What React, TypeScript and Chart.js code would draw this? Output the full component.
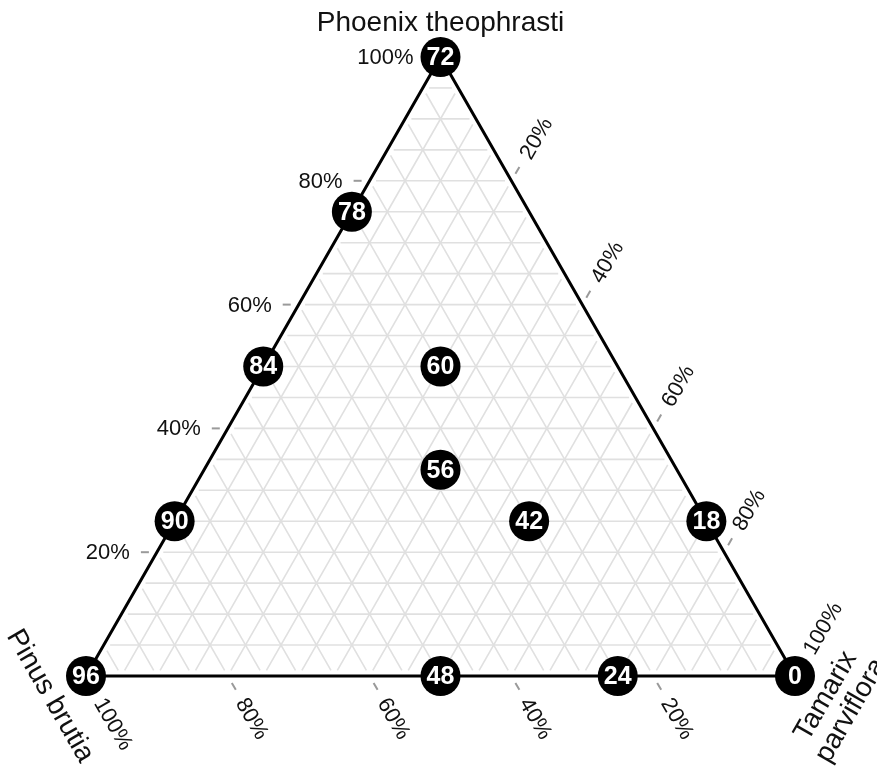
import React, { useEffect, useRef } from 'react';
import { Chart, registerables } from 'chart.js';

Chart.register(...registerables);

// Vertex (axis) titles
const axisTop = 'Phoenix theophrasti';
const axisLeft = 'Pinus brutia';
const axisRight = ['Tamarix', 'parviflora'];

// Sample labels and their compositions (%)
const sampleLabels = ['72', '78', '84', '90', '96', '48', '24', '0', '18', '60', '56', '42'];
const phoenix = [100, 75, 50, 25, 0, 0, 0, 0, 25, 50, 33.3, 25];
const pinus = [0, 25, 50, 75, 100, 50, 25, 0, 0, 25, 33.3, 25];
const tamarix = [0, 0, 0, 0, 0, 50, 75, 100, 75, 25, 33.3, 50];

// Axis ticks
const tickValues = [20, 40, 60, 80, 100];
const tickLabels = ['20%', '40%', '60%', '80%', '100%'];
const gridStep = 5;

const FONT = "'Liberation Sans', Arial, sans-serif";

// ternary (top=a, left=b, right=c) -> cartesian in unit triangle
function tern(a: number, b: number, c: number) {
  const s = a + b + c;
  return { x: (c + a / 2) / s, y: a / s };
}

export default function App() {
  const ref = useRef<HTMLCanvasElement | null>(null);

  useEffect(() => {
    document.body.style.margin = '0';
    const canvas = ref.current!;
    const datasets: any[] = [];

    datasets.push({
      label: 'samples',
      data: sampleLabels.map((_, i) => tern(phoenix[i], pinus[i], tamarix[i])),
      showLine: false,
      pointRadius: 20,
      pointHoverRadius: 20,
      pointBackgroundColor: '#000',
      pointBorderWidth: 0,
      order: 0,
    });

    datasets.push({
      label: 'border',
      data: [tern(1, 0, 0), tern(0, 1, 0), tern(0, 0, 1), tern(1, 0, 0)],
      showLine: true,
      borderColor: '#000',
      borderWidth: 3,
      pointRadius: 0,
      order: 1,
    });

    const inset = 0.009; // grid lines stop just short of the frame
    for (let k = gridStep; k < 100; k += gridStep) {
      const f = k / 100;
      const g = 1 - f - inset;
      const lines = [
        [tern(f, g, inset), tern(f, inset, g)],
        [tern(g, f, inset), tern(inset, f, g)],
        [tern(g, inset, f), tern(inset, g, f)],
      ];
      lines.forEach((pts) =>
        datasets.push({
          label: 'grid',
          data: pts,
          showLine: true,
          borderColor: 'rgb(224,224,224)',
          borderWidth: 1.6,
          pointRadius: 0,
          order: 2,
        })
      );
    }

    const px = (chart: any, p: { x: number; y: number }) => ({
      x: chart.scales.x.getPixelForValue(p.x),
      y: chart.scales.y.getPixelForValue(p.y),
    });

    const axes = [
      { pt: (v: number) => tern(v, 1 - v, 0), dir: [-1, 0], rot: 0, align: 'right' },
      { pt: (v: number) => tern(0, v, 1 - v), dir: [0.5, 0.866], rot: Math.PI / 3, align: 'left' },
      { pt: (v: number) => tern(1 - v, 0, v), dir: [0.5, -0.866], rot: -Math.PI / 3, align: 'left' },
    ];

    const overlay = {
      id: 'ternOverlay',
      beforeDatasetsDraw(chart: any) {
        const ctx = chart.ctx as CanvasRenderingContext2D;
        ctx.save();
        axes.forEach((ax) => {
          tickValues.forEach((tv) => {
            const p = px(chart, ax.pt(tv / 100));
            ctx.strokeStyle = '#9a9a9a';
            ctx.lineWidth = 2;
            ctx.beginPath();
            ctx.moveTo(p.x + ax.dir[0] * 8, p.y + ax.dir[1] * 8);
            ctx.lineTo(p.x + ax.dir[0] * 16, p.y + ax.dir[1] * 16);
            ctx.stroke();
          });
        });
        ctx.restore();
      },
      afterDatasetsDraw(chart: any) {
        const ctx = chart.ctx as CanvasRenderingContext2D;
        ctx.save();

        axes.forEach((ax) => {
          tickValues.forEach((tv, i) => {
            const p = px(chart, ax.pt(tv / 100));
            ctx.save();
            ctx.translate(p.x + ax.dir[0] * 27, p.y + ax.dir[1] * 27);
            ctx.rotate(ax.rot);
            ctx.fillStyle = '#111';
            ctx.font = `22px ${FONT}`;
            ctx.textAlign = ax.align as CanvasTextAlign;
            ctx.textBaseline = 'middle';
            ctx.fillText(tickLabels[i], 0, 1);
            ctx.restore();
          });
        });

        // vertex titles
        ctx.fillStyle = '#111';
        ctx.font = `28px ${FONT}`;
        ctx.textAlign = 'center';
        ctx.textBaseline = 'middle';
        const top = px(chart, tern(1, 0, 0));
        ctx.fillText(axisTop, top.x, top.y - 34);

        const left = px(chart, tern(0, 1, 0));
        ctx.save();
        ctx.translate(left.x - 36, left.y + 20);
        ctx.rotate(Math.PI / 3);
        ctx.fillText(axisLeft, 0, 0);
        ctx.restore();

        const right = px(chart, tern(0, 0, 1));
        ctx.save();
        ctx.translate(right.x + 43, right.y + 27);
        ctx.rotate(-Math.PI / 3);
        ctx.fillText(axisRight[0], 0, -14);
        ctx.fillText(axisRight[1], 0, 15);
        ctx.restore();

        // sample labels
        const meta = chart.getDatasetMeta(0);
        ctx.fillStyle = '#fff';
        ctx.font = `bold 25px ${FONT}`;
        ctx.textAlign = 'center';
        ctx.textBaseline = 'middle';
        meta.data.forEach((el: any, i: number) => {
          ctx.fillText(sampleLabels[i], el.x, el.y + 1);
        });
        ctx.restore();
      },
    };

    const chart = new Chart(canvas, {
      type: 'scatter',
      data: { datasets },
      options: {
        animation: false,
        responsive: false,
        devicePixelRatio: 1,
        layout: { padding: 0, autoPadding: false },
        plugins: { legend: { display: false }, tooltip: { enabled: false } },
        events: [],
        scales: {
          x: { type: 'linear', display: false, min: -86 / 709, max: 791 / 709 },
          y: { type: 'linear', display: false, min: -91 / 619, max: 676 / 619 },
        },
        elements: { line: { tension: 0 } },
        datasets: { scatter: { clip: false } as any },
      } as any,
      plugins: [overlay],
    });
    return () => chart.destroy();
  }, []);

  return <canvas ref={ref} width={877} height={767} style={{ display: 'block' }} />;
}
